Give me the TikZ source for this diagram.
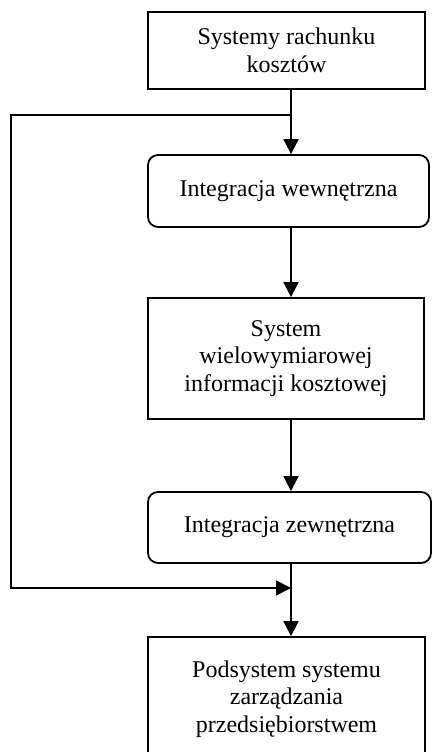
\documentclass[tikz,border=0pt]{standalone}
\usepackage{fontspec}
\setmainfont{Liberation Serif}
\usetikzlibrary{arrows.meta}
\begin{document}
\begin{tikzpicture}[x=1pt,y=-1pt,
  every node/.style={font=\fontsize{24}{27.5}\selectfont, align=center, inner sep=0pt},
  sqbox/.style={draw, line width=1.8pt, rectangle},
  rbox/.style={draw, line width=1.8pt, rectangle, rounded corners=10pt},
  conn/.style={line width=1.8pt},
  arr/.style={conn, -{Triangle[length=15pt,width=15pt]}}]
\clip (0,0) rectangle (433,752);
\useasboundingbox (0,0) rectangle (433,752);
\fill[white] (0,0) rectangle (433,752);
\node[sqbox, minimum width=277pt, minimum height=77pt] (b1) at (286.5,50.5) {Systemy rachunku\\kosztów};
\node[rbox, minimum width=281pt, minimum height=72pt] (b2) at (288.5,191) {Integracja wewnętrzna};
\node[sqbox, minimum width=276pt, minimum height=121pt] (b3) at (286,358.5) {System\\wielowymiarowej\\informacji kosztowej};
\node[rbox, minimum width=283pt, minimum height=71pt] (b4) at (289.5,527.5) {Integracja zewnętrzna};
\node[sqbox, minimum width=277pt, minimum height=124pt] (b5) at (286.5,699) {Podsystem systemu\\zarządzania\\przedsiębiorstwem};
\coordinate (sp) at (291,0);
\coordinate (split) at (291,115);
\coordinate (join) at (291,588);
\coordinate (lt) at (11,115);
\coordinate (lb) at (11,588);
\draw[arr] (b1.south -| sp) -- (b2.north -| sp);
\draw[arr] (b2.south -| sp) -- (b3.north -| sp);
\draw[arr] (b3.south -| sp) -- (b4.north -| sp);
\draw[arr] (b4.south -| sp) -- (b5.north -| sp);
\draw[arr] (split) -- (lt) -- (lb) -- (join);
\end{tikzpicture}
\end{document}
